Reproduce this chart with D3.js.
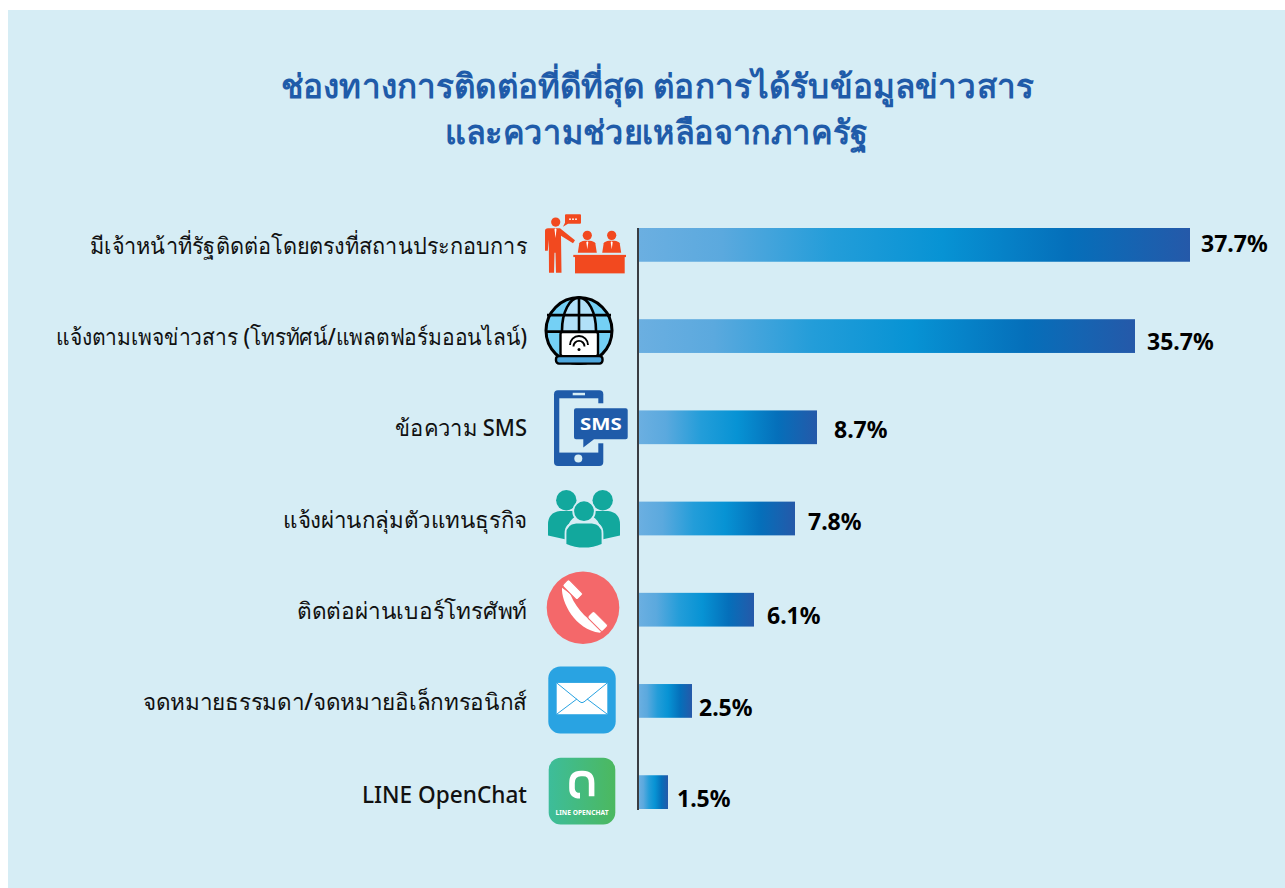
<!DOCTYPE html>
<html lang="th">
<head>
    <meta charset="UTF-8" />
    <title>ช่องทางการติดต่อที่ดีที่สุด</title>
    <script src="https://d3js.org/d3.v7.min.js"></script>
    <style>
        html, body { margin: 0; padding: 0; background: #fff; }
        svg { display: block; }
        text { font-family: "Noto Sans", "Open Sans", sans-serif; }
    </style>
</head>
<body>
    <div class="canvas"></div>

    <script>
        /* data */
        const categories = [
            "มีเจ้าหน้าที่รัฐติดต่อโดยตรงที่สถานประกอบการ",
            "แจ้งตามเพจข่าวสาร (โทรทัศน์/แพลตฟอร์มออนไลน์)",
            "ข้อความ SMS",
            "แจ้งผ่านกลุ่มตัวแทนธุรกิจ",
            "ติดต่อผ่านเบอร์โทรศัพท์",
            "จดหมายธรรมดา/จดหมายอิเล็กทรอนิกส์",
            "LINE OpenChat",
        ];
        const values = [37.7, 35.7, 8.7, 7.8, 6.1, 2.5, 1.5];
        const titleLines = [
            "ช่องทางการติดต่อที่ดีที่สุด ต่อการได้รับข้อมูลข่าวสาร",
            "และความช่วยเหลือจากภาครัฐ",
        ];

        const width = 1285, height = 888;
        const bgColor = "#d6edf5";
        const axisX = 639;

        const svg = d3.select(".canvas").append("svg")
            .attr("width", width).attr("height", height);

        svg.append("rect").attr("x", 8).attr("y", 10)
            .attr("width", width - 8).attr("height", height - 10)
            .attr("fill", bgColor);

        /* gradient shared by the bars */
        const grad = svg.append("defs").append("linearGradient").attr("id", "barGrad");
        [[0, "#6bafe1"], [0.15, "#5ba9de"], [0.35, "#239dd9"], [0.55, "#0793d4"], [0.78, "#056fba"], [1, "#2559a9"]]
            .forEach(([o, c]) => grad.append("stop").attr("offset", o).attr("stop-color", c));

        /* the bars in the picture are not drawn to one ratio, so the scale is piecewise */
        const x = d3.scaleLinear()
            .domain([0, 1.5, 2.5, 6.1, 7.8, 8.7, 35.7, 37.7])
            .range([0, 29, 53, 115, 156, 178, 496, 551]);

        const y = d3.scaleBand()
            .domain(categories)
            .range([228, 809])
            .paddingInner(0.63)
            .paddingOuter(0);

        const rows = categories.map((c, i) => ({ name: c, value: values[i], i }));

        /* title, squeezed to the widths of the original lines */
        const titleWidths = [753, 423];
        svg.append("g").selectAll("text").data(titleLines).enter().append("text")
            .attr("x", (d, i) => 657.5 - i)
            .attr("y", (d, i) => 98 + i * 46)
            .attr("text-anchor", "middle")
            .attr("font-size", 33)
            .attr("font-weight", 700)
            .attr("fill", "#1f5ba9")
            .attr("textLength", (d, i) => titleWidths[i])
            .attr("lengthAdjust", "spacingAndGlyphs")
            .text((d) => d);

        /* bars */
        svg.append("g").selectAll("rect").data(rows).enter().append("rect")
            .attr("x", axisX)
            .attr("y", (d) => y(d.name))
            .attr("width", (d) => x(d.value))
            .attr("height", y.bandwidth())
            .attr("fill", "url(#barGrad)");

        /* vertical axis line */
        svg.append("line")
            .attr("x1", axisX - 1).attr("x2", axisX - 1)
            .attr("y1", 228).attr("y2", 810)
            .attr("stroke", "#3a3d42").attr("stroke-width", 2);

        /* category labels */
        const labelWidths = [437, 471, 132, 244, 230, 384, 165];
        const labelNudge = [1, 1, 1, 1, 1, 1, 3];
        svg.append("g").selectAll("text").data(rows).enter().append("text")
            .attr("x", 527)
            .attr("y", (d) => y(d.name) + y.bandwidth() / 2 + 8 + labelNudge[d.i])
            .attr("text-anchor", "end")
            .attr("font-size", 23)
            .attr("font-weight", 500)
            .attr("fill", "#111")
            .attr("textLength", (d) => labelWidths[d.i])
            .attr("lengthAdjust", "spacingAndGlyphs")
            .text((d) => d.name);

        /* value labels sit unevenly in the original */
        const labelDx = [11, 12, 17, 13, 13, 7, 9];
        const labelDy = [-1, 6, 3, 3, 6, 7, 7];
        svg.append("g").selectAll("text").data(rows).enter().append("text")
            .attr("x", (d) => axisX + x(d.value) + labelDx[d.i])
            .attr("y", (d) => y(d.name) + y.bandwidth() / 2 + 8 + labelDy[d.i])
            .attr("font-size", 23)
            .attr("font-weight", 700)
            .attr("fill", "#000")
            .text((d) => d.value.toFixed(1) + "%");

        /* icons, drawn around each row centre */
        const red = "#f2491f", blue = "#1f5ba9", teal = "#12a89d", coral = "#f4686a";
        const iconAt = (i, dy, cx) => svg.append("g")
            .attr("transform", `translate(${cx}, ${y(categories[i]) + y.bandwidth() / 2 + dy})`);

        function person(g, cx, cy) {
            g.append("circle").attr("cx", cx).attr("cy", cy).attr("r", 4.6).attr("fill", red);
            g.append("path").attr("fill", red)
                .attr("d", `M${cx - 9.5},${cy + 17.5} L${cx - 8},${cy + 8} Q${cx - 7},${cy + 6} ${cx - 2.5},${cy + 5.5} L${cx + 2.5},${cy + 5.5} Q${cx + 7},${cy + 6} ${cx + 8},${cy + 8} L${cx + 9.5},${cy + 17.5} Z`);
            g.append("path").attr("fill", "#fff").attr("d", `M${cx},${cy + 6} l-1,1 l1,7 l1,-7 Z`);
        }

        // officer at the desk
        const g0 = iconAt(0, 0, 585);
        g0.append("circle").attr("cx", -29.3).attr("cy", -22.8).attr("r", 4.6).attr("fill", red);
        g0.append("path").attr("fill", red)
            .attr("d", "M-40,-14 Q-40,-16.5 -37,-16.5 L-25,-16.5 L-10,-4.5 L-12,-1.5 L-24,-9 L-23.5,28 L-29,28 L-29.5,8 L-30.5,8 L-31,28 L-36,28 L-36.2,-5 L-37.2,6 L-40,6 Z");
        g0.append("path").attr("fill", "#fff").attr("d", "M-29.5,-16.5 l-1,1 l1,9 l1,-9 Z");
        g0.append("path").attr("fill", red)
            .attr("d", "M-20,-29.5 Q-20,-30.5 -19,-30.5 L-5,-30.5 Q-4,-30.5 -4,-29.5 L-4,-22 Q-4,-21 -5,-21 L-17,-21 L-22,-18 L-20,-22 Z");
        [-15, -12, -9].forEach((d) => g0.append("circle").attr("cx", d).attr("cy", -25.7).attr("r", 0.9).attr("fill", "#fff"));
        person(g0, 2.3, -9.5);
        person(g0, 26.7, -9.5);
        g0.append("rect").attr("x", -11.7).attr("y", 10).attr("width", 52.7).attr("height", 2.2).attr("fill", red);
        g0.append("rect").attr("x", -10).attr("y", 12).attr("width", 49.7).attr("height", 16.5).attr("fill", red);

        // globe with laptop
        const g1 = iconAt(1, -5.5, 579);
        g1.append("clipPath").attr("id", "globeClip").append("circle").attr("r", 33);
        g1.append("circle").attr("r", 33).attr("fill", "#74d0f5");
        g1.append("ellipse").attr("rx", 17).attr("ry", 33).attr("fill", "#b1e0f8").attr("clip-path", "url(#globeClip)");
        g1.append("ellipse").attr("rx", 17).attr("ry", 33).attr("fill", "none").attr("stroke", "#000").attr("stroke-width", 2.6);
        g1.append("line").attr("y1", -33).attr("y2", 33).attr("stroke", "#000").attr("stroke-width", 2.6);
        [-15.5, 1].forEach((d) => g1.append("line").attr("x1", -32).attr("x2", 32).attr("y1", d).attr("y2", d).attr("stroke", "#000").attr("stroke-width", 2.6));
        g1.append("circle").attr("r", 33).attr("fill", "none").attr("stroke", "#000").attr("stroke-width", 3);
        g1.append("rect").attr("x", -18.5).attr("y", 1.5).attr("width", 37.5).attr("height", 24).attr("rx", 2).attr("fill", "#fff").attr("stroke", "#000").attr("stroke-width", 2.4);
        g1.append("rect").attr("x", -23).attr("y", 25.5).attr("width", 46.5).attr("height", 7.5).attr("rx", 3).attr("fill", "#4fa7dd").attr("stroke", "#000").attr("stroke-width", 2.4);
        [9, 5.5].forEach((r) => g1.append("path").attr("d", `M${-r},${18 - r * 0.4} A${r},${r} 0 0 1 ${r},${18 - r * 0.4}`).attr("fill", "none").attr("stroke", "#000").attr("stroke-width", 1.9));
        g1.append("circle").attr("cy", 19).attr("r", 1.5).attr("fill", "#000");

        // phone with SMS bubble
        const g2 = iconAt(2, 1, 584);
        g2.append("rect").attr("x", -30).attr("y", -38).attr("width", 49.3).attr("height", 75.7).attr("rx", 4).attr("fill", blue);
        g2.append("rect").attr("x", -24.7).attr("y", -30).attr("width", 39).attr("height", 54.3).attr("fill", bgColor);
        g2.append("rect").attr("x", 13).attr("y", -25).attr("width", 8).attr("height", 40).attr("fill", bgColor);
        g2.append("rect").attr("x", -11.3).attr("y", -35.5).attr("width", 12.3).attr("height", 2.5).attr("fill", bgColor);
        g2.append("circle").attr("cx", -5.7).attr("cy", 30.3).attr("r", 4).attr("fill", bgColor);
        g2.append("path").attr("fill", blue)
            .attr("d", "M-10,-18 Q-10,-20 -8,-20 L41.7,-20 Q43.7,-20 43.7,-18 L43.7,9 Q43.7,11 41.7,11 L10,11 L-0.7,19.3 L-0.7,11 L-8,11 Q-10,11 -10,9 Z");
        g2.append("text").attr("x", 16.8).attr("y", 1.5).attr("text-anchor", "middle")
            .attr("font-family", "DejaVu Sans").attr("font-size", 16.5).attr("font-weight", 700)
            .attr("textLength", 41.7).attr("lengthAdjust", "spacingAndGlyphs")
            .attr("fill", "#fff").text("SMS");

        // three people
        const g3 = iconAt(3, 1, 584);
        [-17.7, 18.7].forEach((d) => g3.append("circle").attr("cx", d).attr("cy", -19.3).attr("r", 10.2).attr("fill", teal));
        g3.append("path").attr("fill", teal).attr("d", "M-36,16 L-36,5 Q-36,-7 -24,-8.5 L-10,-8.5 L-6,-4 Q-18,0 -18,20 Z");
        g3.append("path").attr("fill", teal).attr("d", "M36,16 L36,5 Q36,-7 24,-8.5 L10,-8.5 L6,-4 Q18,0 18,20 Z");
        g3.append("circle").attr("cy", -8.3).attr("r", 10.8).attr("fill", teal).attr("stroke", bgColor).attr("stroke-width", 1.8);
        g3.append("path").attr("fill", teal).attr("stroke", bgColor).attr("stroke-width", 1.8)
            .attr("d", "M-18.5,25 L-18.5,14 Q-18.5,4 -8,3 L8,3 Q18.5,4 18.5,14 L18.5,25 Q0,33 -18.5,25 Z");

        // telephone: curved body with two pads
        const g4 = iconAt(4, -2, 583);
        g4.append("circle").attr("r", 36.3).attr("fill", coral);
        g4.append("path").attr("fill", "#fff")
            .attr("d", "M-21,-20 C-22,-6 -8,22 17,25 L21,21 C6,14 -6,2 -12,-12 L-13,-14 Z");
        [[-10.3, -18], [14.7, 13.7]].forEach(([px, py]) => g4.append("rect")
            .attr("x", -10.5).attr("y", -4.5).attr("width", 21).attr("height", 9).attr("rx", 2)
            .attr("fill", "#fff").attr("stroke", coral).attr("stroke-width", 1)
            .attr("transform", `translate(${px}, ${py}) rotate(45)`));

        // envelope
        const g5 = iconAt(5, -1, 582);
        g5.append("rect").attr("x", -33.7).attr("y", -33.5).attr("width", 67.4).attr("height", 67).attr("rx", 12).attr("fill", "#29a3e2");
        g5.append("rect").attr("x", -25.3).attr("y", -17).attr("width", 50.6).attr("height", 31.3).attr("fill", "#fff");
        g5.append("path").attr("fill", "none").attr("stroke", "#29a3e2").attr("stroke-width", 1)
            .attr("d", "M-25.3,-17 L-2,2 Q0,3.5 2,2 L25.3,-17 M-25.3,14.3 L-5,-1 M25.3,14.3 L5,-1");

        // LINE OpenChat
        const lineGrad = svg.select("defs").append("linearGradient").attr("id", "lineGrad");
        lineGrad.append("stop").attr("offset", 0).attr("stop-color", "#3dbd9a");
        lineGrad.append("stop").attr("offset", 1).attr("stop-color", "#4cb85f");
        const g6 = iconAt(6, -1, 582);
        g6.append("rect").attr("x", -33.3).attr("y", -33.3).attr("width", 66.6).attr("height", 66.6).attr("rx", 12).attr("fill", "url(#lineGrad)");
        g6.append("path").attr("fill", "none").attr("stroke", "#fff").attr("stroke-width", 5.6)
            .attr("d", "M9.6,5 L9.6,-8 Q9.6,-17.6 1,-17.6 L-1,-17.6 Q-10,-17.6 -10,-8 L-10,-3 Q-10,4.5 -2,4.5");
        g6.append("text").attr("x", 0).attr("y", 24).attr("text-anchor", "middle")
            .attr("font-size", 7).attr("font-weight", 700).attr("fill", "#fff")
            .attr("textLength", 53).attr("lengthAdjust", "spacingAndGlyphs")
            .text("LINE OPENCHAT");
    </script>
</body>
</html>
